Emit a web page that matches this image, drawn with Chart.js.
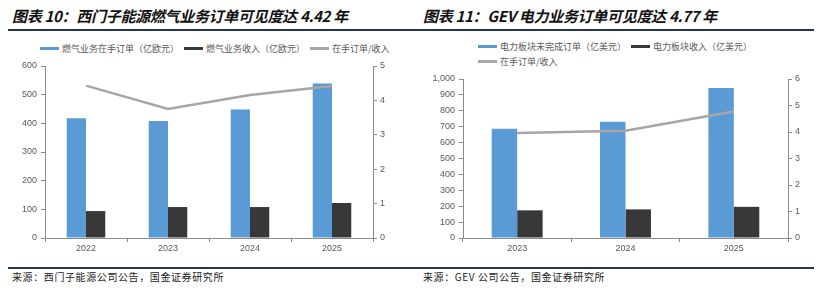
<!DOCTYPE html>
<html>
<head>
<meta charset="utf-8">
<script src="https://cdn.jsdelivr.net/npm/chart.js@4"></script>
<style>
  body { margin: 0; background: #fff; width: 821px; height: 290px; position: relative; overflow: hidden;
         font-family: "Noto Sans CJK SC", sans-serif; }
  .title { position: absolute; top: 5px; font-size: 15px; letter-spacing: -0.3px; font-weight: bold; font-style: italic; color: #111; white-space: nowrap; }
  .rule { position: absolute; left: 8px; width: 806px; height: 1.5px; background: #22394a; }
  .src { position: absolute; top: 269px; font-size: 10px; color: #222; letter-spacing: 0.6px; white-space: nowrap; }
  .legend { position: absolute; font-size: 9px; color: #595959; white-space: nowrap; }
  .legend .row { display: flex; align-items: center; height: 15px; }
  .legend .item { display: flex; align-items: center; margin-right: 5px; }
  .legend .swatch { display: inline-block; width: 19px; height: 3px; margin-right: 3px; }
  canvas { position: absolute; }
</style>
</head>
<body>
<div class="title" style="left:12px">图表 10：西门子能源燃气业务订单可见度达 4.42 年</div>
<div class="title" style="left:423px">图表 11：GEV 电力业务订单可见度达 4.77 年</div>
<div class="rule" style="top:29px"></div>

<div class="legend" id="legendLeft" style="left:40px; top:41px"></div>
<div class="legend" id="legendRight" style="left:478px; top:39px"></div>

<canvas id="leftChart" style="left:0; top:55px" width="410" height="205"></canvas>
<canvas id="rightChart" style="left:410px; top:55px" width="411" height="205"></canvas>

<div class="rule" style="top:267px"></div>
<div class="src" style="left:12px">来源：西门子能源公司公告，国金证券研究所</div>
<div class="src" style="left:423px">来源：GEV 公司公告，国金证券研究所</div>

<script>
// 图表10 数据（西门子能源）
const leftYears = ['2022', '2023', '2024', '2025'];
const leftBacklog = [418, 408, 448, 539];
const leftRevenue = [94, 108, 108, 122];
const leftRatio = [4.43, 3.75, 4.16, 4.42];
const leftNames = ['燃气业务在手订单（亿欧元）', '燃气业务收入（亿欧元）', '在手订单/收入'];

// 图表11 数据（GEV）
const rightYears = ['2023', '2024', '2025'];
const rightBacklog = [687, 731, 943];
const rightRevenue = [174, 180, 196];
const rightRatio = [3.96, 4.05, 4.77];
const rightNames = ['电力板块未完成订单（亿美元）', '电力板块收入（亿美元）', '在手订单/收入'];

const colors = ['#5B9BD5', '#383838', '#A6A6A6'];
const axisColor = '#8c8c8c';
const tickFont = { family: "'Liberation Sans', 'Noto Sans CJK SC'", size: 9 };

// 图例（HTML）
function buildLegend(id, names, rows) {
    const box = document.getElementById(id);
    rows.forEach(function(row) {
        const r = document.createElement('div');
        r.className = 'row';
        row.forEach(function(i) {
            const it = document.createElement('span');
            it.className = 'item';
            it.innerHTML = '<span class="swatch" style="background:' + colors[i] + '"></span>' + names[i];
            r.appendChild(it);
        });
        box.appendChild(r);
    });
}
buildLegend('legendLeft', leftNames, [[0, 1, 2]]);
buildLegend('legendRight', rightNames, [[0, 1], [2]]);

function makeChart(canvasId, labels, backlog, revenue, ratio, names, opts) {
    const ctx = document.getElementById(canvasId).getContext('2d');
    return new Chart(ctx, {
        type: 'bar',
        data: {
            labels: labels,
            datasets: [
                {
                    type: 'line', label: names[2], data: ratio, yAxisID: 'y1',
                    borderColor: colors[2], borderWidth: 2.5, pointRadius: 0, tension: 0, order: 0
                },
                {
                    label: names[0], data: backlog, yAxisID: 'y', backgroundColor: colors[0],
                    categoryPercentage: 0.47, barPercentage: 1.0, order: 1
                },
                {
                    label: names[1], data: revenue, yAxisID: 'y', backgroundColor: colors[1],
                    categoryPercentage: 0.47, barPercentage: 1.0, order: 1
                }
            ]
        },
        options: {
            responsive: false,
            animation: false,
            layout: { padding: { top: opts.top, left: 0, right: 0, bottom: 0 } },
            plugins: { legend: { display: false }, tooltip: { enabled: false } },
            scales: {
                x: {
                    grid: { drawOnChartArea: false, drawTicks: true, tickLength: 4, color: axisColor },
                    border: { color: axisColor },
                    ticks: { font: tickFont, color: '#595959', padding: 1 },
                    afterFit: function(s) { s.height = 22; }
                },
                y: {
                    position: 'left', min: 0, max: opts.yMax,
                    grid: { drawOnChartArea: false, drawTicks: true, tickLength: 4, color: axisColor },
                    border: { color: axisColor },
                    ticks: { stepSize: opts.yStep, font: tickFont, color: '#595959', padding: 4 },
                    afterFit: function(s) { s.width = opts.leftW; }
                },
                y1: {
                    position: 'right', min: 0, max: opts.y1Max,
                    grid: { drawOnChartArea: false, drawTicks: true, tickLength: 4, color: axisColor },
                    border: { color: axisColor },
                    ticks: { stepSize: 1, font: tickFont, color: '#595959', padding: 3 },
                    afterFit: function(s) { s.width = opts.rightW; }
                }
            }
        }
    });
}

makeChart('leftChart', leftYears, leftBacklog, leftRevenue, leftRatio, leftNames,
    { top: 11, yMax: 600, yStep: 100, y1Max: 5, leftW: 45, rightW: 37 });
makeChart('rightChart', rightYears, rightBacklog, rightRevenue, rightRatio, rightNames,
    { top: 24, yMax: 1000, yStep: 100, y1Max: 6, leftW: 53, rightW: 33 });
</script>
</body>
</html>
